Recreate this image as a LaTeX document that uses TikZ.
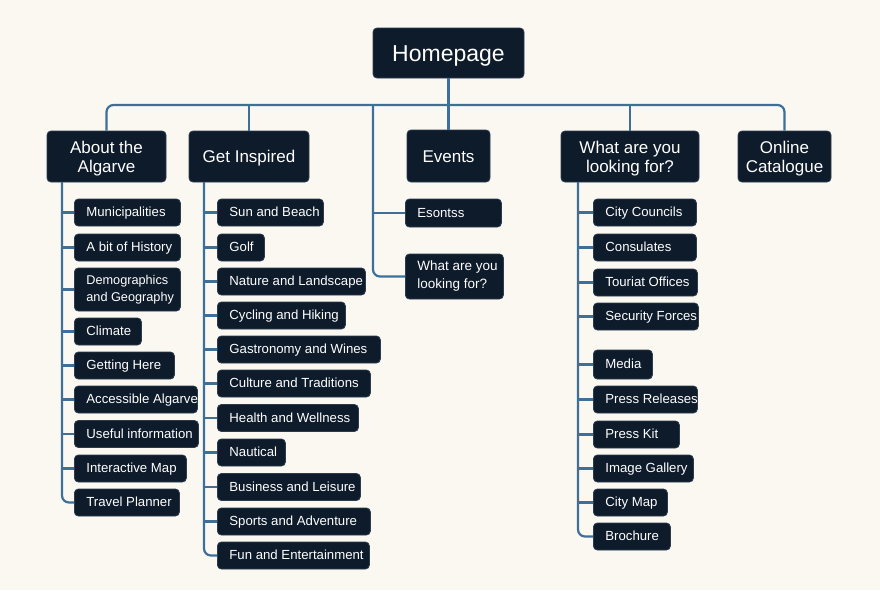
\documentclass[tikz,border=0pt]{standalone}
\usepackage{fontspec}
\setmainfont{Liberation Sans}
\definecolor{bg}{HTML}{FBF8F2}
\definecolor{navy}{HTML}{0E1B2B}
\definecolor{edge}{HTML}{2C3C4E}
\definecolor{wire}{HTML}{3E6F98}
\newcommand\leftfit[2]{\makebox[#1][l]{#2}}
\newcommand\hstrut{\rule{0pt}{16.5pt}}
\tikzset{
  hdr/.style={fill=navy, draw=edge, line width=0.8pt, rounded corners=4pt, text=white, align=center, inner sep=0pt, font=\fontsize{17}{19.5}\selectfont},
  item/.style={fill=navy, draw=edge, line width=0.8pt, rounded corners=4pt, text=white, anchor=west, minimum height=27pt, inner xsep=12pt, inner ysep=0pt, font=\fontsize{13.2}{16}\selectfont, text height=10pt, text depth=1.4pt},
  multi/.style={text height=, text depth=, align=left},
  wire/.style={draw=wire, line width=2.2pt, rounded corners=7pt}
}
\begin{document}
\begin{tikzpicture}[x=1pt,y=-1pt]
\fill[bg] (0,0) rectangle (880,590);
\useasboundingbox (0,0) rectangle (880,590);
% headers
\node[hdr, minimum width=151pt, minimum height=50pt, font=\fontsize{23}{25}\selectfont, text height=17pt, text depth=0pt] (home) at (448.5,53) {Homepage};
\node[hdr, minimum width=119pt, minimum height=51pt] (about) at (106.5,156.5) {\hstrut About the\\Algarve};
\node[hdr, minimum width=120pt, minimum height=51pt, text height=13pt, text depth=0.6pt] (insp) at (249,156.5) {Get Inspired};
\node[hdr, minimum width=83pt, minimum height=52pt, text height=13pt, text depth=0.6pt] (events) at (448.5,156) {Events};
\node[hdr, minimum width=138pt, minimum height=51pt] (what) at (630,156.5) {\hstrut What are you\\looking for?};
\node[hdr, minimum width=93pt, minimum height=51pt] (online) at (784.5,156.5) {\hstrut Online\\Catalogue};
% bus
\coordinate (busL) at (106.5,105);
\coordinate (busR) at (784.5,105);
\draw[wire] (about.north) -- (busL) -- (busR) -- (online.north);
\draw[wire] (home.south) -- (events.north);
\draw[wire] (insp.north) -- (insp.north |- busL);
\draw[wire] (what.north) -- (what.north |- busL);
% About column
\node[item] (a1) at (74,212.5) {\leftfit{82pt}{Municipalities}};
\node[item] (a2) at (74,247.5) {\leftfit{82pt}{A bit of History}};
\node[item, multi, minimum height=43pt, font=\fontsize{12.7}{17}\selectfont] (a3) at (74,289.5) {\leftfit{82pt}{Demographics}\\\leftfit{82pt}{and Geography}};
\node[item] (a4) at (74,331.5) {\leftfit{43pt}{Climate}};
\node[item] (a5) at (74,365.5) {\leftfit{76pt}{Getting Here}};
\node[item] (a6) at (74,399.5) {\leftfit{99pt}{Accessible Algarve}};
\node[item] (a7) at (74,434) {\leftfit{100pt}{Useful information}};
\node[item] (a8) at (74,468.5) {\leftfit{88pt}{Interactive Map}};
\node[item] (a9) at (74,502.5) {\leftfit{81pt}{Travel Planner}};
\coordinate (asrc) at (62,182);
\draw[wire] (asrc) |- (a9.west);
\foreach \n in {a1,a2,a3,a4,a5,a6,a7,a8} \draw[wire] (asrc |- \n.west) -- (\n.west);
% Get Inspired column
\node[item] (g1) at (217,212.5) {\leftfit{82pt}{Sun and Beach}};
\node[item] (g2) at (217,247.5) {\leftfit{23pt}{Golf}};
\node[item] (g3) at (217,281.5) {\leftfit{124pt}{Nature and Landscape}};
\node[item] (g4) at (217,315.5) {\leftfit{104pt}{Cycling and Hiking}};
\node[item] (g5) at (217,349.5) {\leftfit{139pt}{Gastronomy and Wines}};
\node[item] (g6) at (217,383.5) {\leftfit{129pt}{Culture and Traditions}};
\node[item] (g7) at (217,418) {\leftfit{117pt}{Health and Wellness}};
\node[item] (g8) at (217,452.5) {\leftfit{44pt}{Nautical}};
\node[item] (g9) at (217,487) {\leftfit{119pt}{Business and Leisure}};
\node[item] (g10) at (217,521.5) {\leftfit{129pt}{Sports and Adventure}};
\node[item] (g11) at (217,555.5) {\leftfit{128pt}{Fun and Entertainment}};
\coordinate (gsrc) at (204,182);
\draw[wire] (gsrc) |- (g11.west);
\foreach \n in {g1,g2,g3,g4,g5,g6,g7,g8,g9,g10} \draw[wire] (gsrc |- \n.west) -- (\n.west);
% Events column
\node[item, minimum height=28pt] (e1) at (405,213) {\leftfit{72pt}{Esontss}};
\node[item, multi, minimum height=45pt, font=\fontsize{13.5}{18}\selectfont] (e2) at (405,276.5) {\leftfit{74pt}{What are you}\\\leftfit{74pt}{looking for?}};
\coordinate (esrc) at (373,105);
\draw[wire] (esrc) |- (e2.west);
\draw[wire] (esrc |- e1.west) -- (e1.west);
% What column
\node[item] (w1) at (593,212.5) {\leftfit{79pt}{City Councils}};
\node[item] (w2) at (593,247.5) {\leftfit{79pt}{Consulates}};
\node[item] (w3) at (593,282.5) {\leftfit{80pt}{Touriat Offices}};
\node[item] (w4) at (593,316.5) {\leftfit{81pt}{Security Forces}};
\node[item, minimum height=29pt] (w5) at (593,364.5) {\leftfit{35pt}{Media}};
\node[item] (w6) at (593,399.5) {\leftfit{80pt}{Press Releases}};
\node[item] (w7) at (593,434.5) {\leftfit{62pt}{Press Kit}};
\node[item] (w8) at (593,468.5) {\leftfit{76pt}{Image Gallery}};
\node[item] (w9) at (593,502.5) {\leftfit{50pt}{City Map}};
\node[item] (w10) at (593,536.5) {\leftfit{53pt}{Brochure}};
\coordinate (wsrc) at (578,182);
\draw[wire] (wsrc) |- (w10.west);
\foreach \n in {w1,w2,w3,w4,w5,w6,w7,w8,w9} \draw[wire] (wsrc |- \n.west) -- (\n.west);
\end{tikzpicture}
\end{document}
